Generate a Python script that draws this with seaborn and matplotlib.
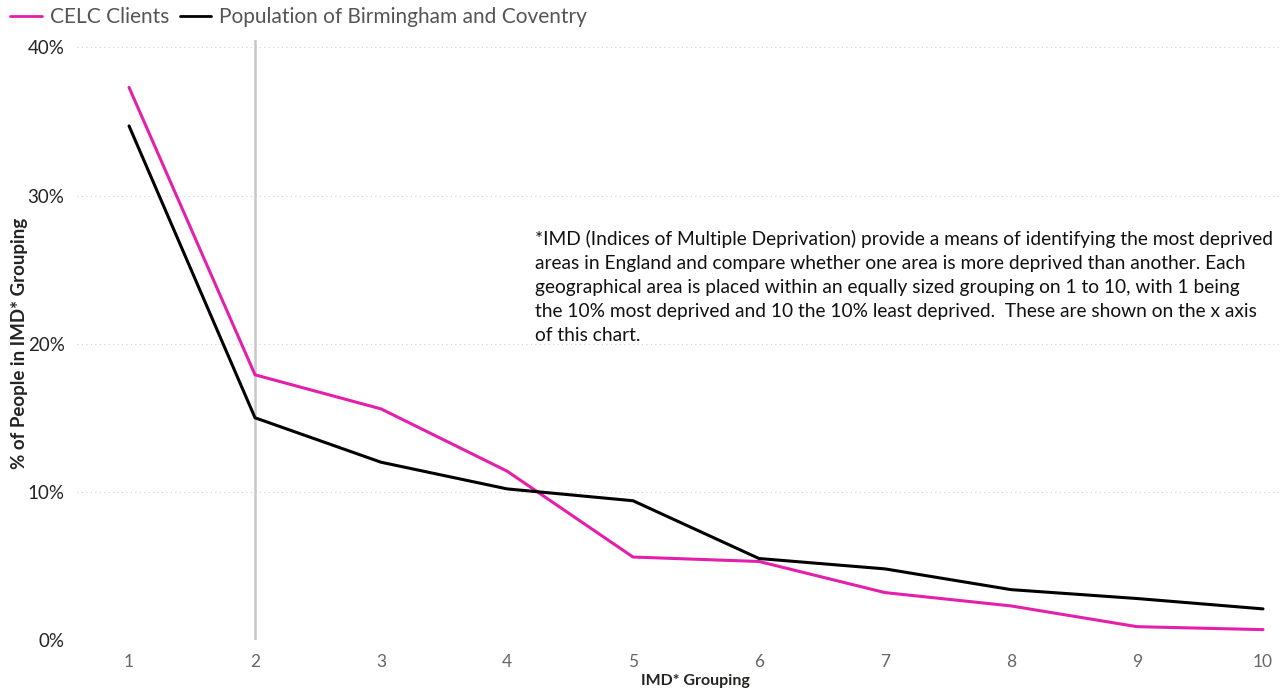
import matplotlib
matplotlib.use("Agg")
import matplotlib.pyplot as plt
import matplotlib.ticker as mticker
from matplotlib.lines import Line2D
import seaborn as sns
import pandas as pd

# IMD deciles and share of people in each (fraction)
imd_groups = [1, 2, 3, 4, 5, 6, 7, 8, 9, 10]
celc_clients = [0.373, 0.179, 0.156, 0.114, 0.056, 0.053, 0.032, 0.023, 0.009, 0.007]
population = [0.347, 0.150, 0.120, 0.102, 0.094, 0.055, 0.048, 0.034, 0.028, 0.021]
series_names = ["CELC Clients", "Population of Birmingham and Coventry"]
y_ticks = [0.0, 0.1, 0.2, 0.3, 0.4]

note_text = (
    "*IMD (Indices of Multiple Deprivation) provide a means of identifying the most deprived\n"
    "areas in England and compare whether one area is more deprived than another. Each\n"
    "geographical area is placed within an equally sized grouping on 1 to 10, with 1 being\n"
    "the 10% most deprived and 10 the 10% least deprived.  These are shown on the x axis\n"
    "of this chart."
)

df = pd.DataFrame({
    "IMD": imd_groups * 2,
    "share": celc_clients + population,
    "series": [series_names[0]] * len(imd_groups) + [series_names[1]] * len(imd_groups),
})

sns.set_theme(style="white")
plt.rcParams["font.family"] = ["Lato", "DejaVu Sans"]

palette = {series_names[0]: "#E41FAB", series_names[1]: "#000000"}

W, H = 1288, 690
fig = plt.figure(figsize=(W / 100, H / 100), dpi=100)
ax = fig.add_axes([77 / W, 1 - 640 / H, (1280 - 77) / W, (640 - 40) / H])

# faint dotted horizontal gridlines
for t in y_ticks:
    ax.axhline(t, color="#D0D0D0", lw=0.8, ls=(0, (1, 3)), zorder=0)

# reference line at decile 2
ax.axvline(2, color="#C8C8C8", lw=1.8, zorder=1)

sns.lineplot(data=df, x="IMD", y="share", hue="series", palette=palette,
             linewidth=2.2, ax=ax, legend=False, zorder=3)

ax.set_xlim(0.587, 10.135)
ax.set_ylim(0, 0.405)
ax.set_xticks(imd_groups)
ax.set_yticks(y_ticks)
ax.yaxis.set_major_formatter(mticker.FuncFormatter(lambda v, p: f"{v * 100:.0f}%"))
ax.tick_params(axis="x", colors="#666666", labelsize=12.5, length=0, pad=10)
ax.tick_params(axis="y", colors="#252423", labelsize=13.5, length=0, pad=9)
for s in ax.spines.values():
    s.set_visible(False)

ax.set_xlabel("IMD* Grouping", fontsize=11.5, color="#252423", fontweight="bold")
ax.set_ylabel("% of People in IMD* Grouping", fontsize=13.5, color="#252423", fontweight="bold")
to_ax = ax.transAxes.inverted()
ax.xaxis.set_label_coords(*to_ax.transform(fig.transFigure.transform((695 / W, 1 - 681 / H))))
ax.yaxis.set_label_coords(*to_ax.transform(fig.transFigure.transform((20 / W, 1 - 343 / H))))
ax.xaxis.label.set_va("center")
ax.yaxis.label.set_va("center")

fig.text(535 / W, 1 - 230 / H, note_text, fontsize=13.8, color="#111111",
         va="top", ha="left", linespacing=1.5)

# legend along the top
handles = [Line2D([0], [0], color=palette[n], lw=2) for n in series_names]
fig.legend(handles, series_names, loc="center left", bbox_to_anchor=(0.0, 1 - 17 / H),
           ncol=2, frameon=False, fontsize=15, handlelength=1.5, handletextpad=0.4,
           columnspacing=0.5, labelcolor="#555555", borderaxespad=0.1)

fig.savefig("out.png", dpi=100)
